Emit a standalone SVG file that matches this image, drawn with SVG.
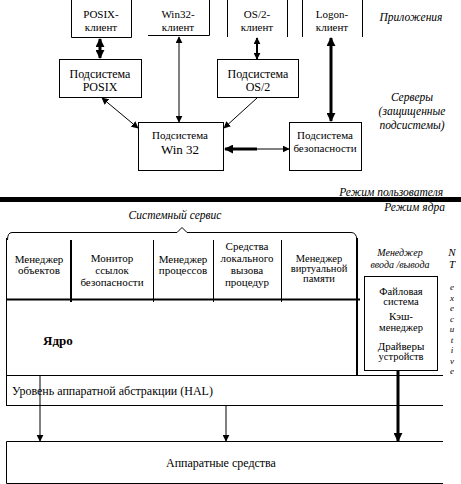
<svg xmlns="http://www.w3.org/2000/svg" width="461" height="484" viewBox="0 0 461 484">
<style>
text{font-family:"Liberation Serif","Times New Roman",serif;font-size:12px;fill:#000}
.c{text-anchor:middle}
.s{font-size:11px}
.xs{font-size:10.5px}
.i{font-style:italic;font-size:11.5px}
.b{font-weight:bold;font-size:13px}
.nt{font-style:italic;font-size:9px;text-anchor:middle}
.ln{stroke:#000;stroke-width:1;fill:none}
.l2{stroke:#000;stroke-width:2;fill:none}
.l3{stroke:#000;stroke-width:3;fill:none}
</style>
<defs>
<marker id="ah" viewBox="0 0 10 10" refX="9" refY="5" markerWidth="7" markerHeight="7" markerUnits="userSpaceOnUse" orient="auto-start-reverse"><path d="M0,0 L10,5 L0,10 z" fill="#000"/></marker>
<marker id="ahb" viewBox="0 0 10 10" refX="9" refY="5" markerWidth="9" markerHeight="9" markerUnits="userSpaceOnUse" orient="auto-start-reverse"><path d="M0,0 L10,5 L0,10 z" fill="#000"/></marker>
</defs>
<rect width="461" height="484" fill="#fff"/>

<!-- user mode clients -->
<g id="posix-client">
<path class="ln" d="M71.5,0 V37.5 H131.5 V0"/>
<text class="c s" x="101" y="18">POSIX-</text>
<text class="c s" x="101" y="31">клиент</text>
</g>
<g id="win32-client">
<path class="ln" d="M148,35.5 H209.5 V0"/>
<text class="c s" x="178" y="18">Win32-</text>
<text class="c s" x="178" y="31">клиент</text>
</g>
<g id="os2-client">
<path class="ln" d="M227.5,0 V37 M287.5,0 V37"/>
<text class="c s" x="257" y="18">OS/2-</text>
<text class="c s" x="257" y="31">клиент</text>
</g>
<g id="logon-client">
<path class="ln" d="M302.5,0 V37 M362.5,0 V37"/>
<text class="c s" x="332" y="18">Logon-</text>
<text class="c s" x="332" y="31">клиент</text>
</g>
<text id="label-apps" class="i" x="411" y="21" text-anchor="middle">Приложения</text>

<!-- servers -->
<g id="posix-subsystem">
<rect class="ln" x="59.5" y="59.5" width="82" height="38"/>
<text class="c" x="100" y="78">Подсистема</text>
<text class="c" x="100" y="91">POSIX</text>
</g>
<g id="os2-subsystem">
<rect class="ln" x="217.5" y="59.5" width="81" height="38"/>
<text class="c" x="258" y="78">Подсистема</text>
<text class="c" x="258" y="91">OS/2</text>
</g>
<g id="win32-subsystem">
<rect class="ln" x="138.5" y="122.5" width="85" height="48"/>
<text class="c s" x="180" y="139">Подсистема</text>
<text class="c" x="180" y="154" style="font-size:13px">Win 32</text>
</g>
<g id="security-subsystem">
<rect class="ln" x="289.5" y="122.5" width="72" height="48"/>
<text class="c s" x="325" y="139">Подсистема</text>
<text class="c s" x="325" y="152">безопасности</text>
</g>
<g id="label-servers">
<text class="i c" x="412" y="101">Серверы</text>
<text class="i c" x="412" y="115">(защищенные</text>
<text class="i c" x="412" y="129">подсистемы)</text>
</g>
<text id="label-user" class="i" x="443" y="196" text-anchor="end">Режим пользователя</text>
<rect id="mode-divider" x="0" y="197" width="461" height="5" fill="#000"/>
<text id="label-kernel" class="i" x="445" y="211" text-anchor="end">Режим ядра</text>

<!-- kernel -->
<text id="label-services" class="i c" x="175" y="219">Системный сервис</text>
<path id="brace" class="ln" d="M7.5,240 Q7.5,232.5 12,232.5 H177 L182,227.5 L187,232.5 H351 Q356.5,232.5 357,240"/>
<g id="kernel-frame">
<path class="ln" d="M6.5,238 V405"/>
<path class="l2" d="M357,238 V375"/>
<path class="l2" d="M6,299.5 H360"/>
<path class="ln" d="M6,375.5 H443"/>
<path class="ln" d="M6,405.5 H443"/>
</g>
<g id="object-manager">
<text class="c s" x="39" y="263">Менеджер</text>
<text class="c s" x="39" y="274">объектов</text>
</g>
<path class="l2" d="M71,240 V302"/>
<g id="security-monitor">
<text class="c s" x="112" y="262">Монитор</text>
<text class="c s" x="112" y="274">ссылок</text>
<text class="c s" x="112" y="286">безопасности</text>
</g>
<path class="ln" d="M153.5,240 V302"/>
<g id="process-manager">
<text class="c s" x="183" y="263">Менеджер</text>
<text class="c s" x="183" y="274">процессов</text>
</g>
<path class="ln" d="M213.5,240 V302"/>
<g id="lpc">
<text class="c s" x="247" y="250">Средства</text>
<text class="c s" x="247" y="262">локального</text>
<text class="c s" x="247" y="274">вызова</text>
<text class="c s" x="247" y="286">процедур</text>
</g>
<path class="ln" d="M281.5,240 V302"/>
<g id="vm-manager">
<text class="c xs" x="319" y="262">Менеджер<tspan x="319" dy="10">виртуальной</tspan><tspan x="319" dy="10">памяти</tspan></text>
</g>
<g id="kernel-core">
<text class="b" x="43" y="345">Ядро</text>
</g>
<g id="io-manager">
<text class="i c" x="400" y="256" style="font-size:10px">Менеджер</text>
<text class="i c" x="400" y="267.5" style="font-size:10px">ввода /вывода</text>
<rect class="ln" x="364.5" y="276.5" width="73" height="94"/>
<text class="c xs" x="401" y="295">Файловая<tspan x="401" dy="10">система</tspan></text>
<text class="c xs" x="401" y="320"><tspan style="font-size:11px">Кэш-</tspan><tspan x="401" dy="11">менеджер</tspan></text>
<text class="c xs" x="401" y="350"><tspan style="font-size:11px">Драйверы</tspan><tspan x="401" dy="10">устройств</tspan></text>
</g>
<g id="label-nt-executive">
<text class="nt" x="452" y="256" style="font-size:11px">N</text>
<text class="nt" x="452" y="268" style="font-size:11px">T</text>
<text class="nt" x="452" y="290">e</text>
<text class="nt" x="452" y="300.5">x</text>
<text class="nt" x="452" y="311">e</text>
<text class="nt" x="452" y="321.5">c</text>
<text class="nt" x="452" y="332">u</text>
<text class="nt" x="452" y="342.5">t</text>
<text class="nt" x="452" y="353">i</text>
<text class="nt" x="452" y="363.5">v</text>
<text class="nt" x="452" y="374">e</text>
</g>
<g id="hal">
<text x="12" y="395">Уровень аппаратной абстракции (HAL)</text>
</g>
<g id="hardware">
<path class="ln" d="M443,441.5 H6.5 V483.5 H443"/>
<text class="c" x="221" y="467">Аппаратные средства</text>
</g>

<g id="connectors">
<line class="l3" x1="100" y1="39" x2="100" y2="58" marker-start="url(#ahb)" marker-end="url(#ahb)"/>
<line class="ln" x1="179" y1="37" x2="179" y2="122" marker-start="url(#ah)" marker-end="url(#ah)"/>
<line class="l2" x1="257" y1="38" x2="257" y2="59" marker-start="url(#ah)" marker-end="url(#ah)"/>
<line class="l3" x1="331" y1="38" x2="331" y2="121" marker-start="url(#ahb)" marker-end="url(#ahb)"/>
<line class="ln" x1="102" y1="98" x2="138" y2="128" marker-start="url(#ah)" marker-end="url(#ah)"/>
<line class="ln" x1="257" y1="98" x2="224" y2="128" marker-end="url(#ah)"/>
<line class="l3" x1="257" y1="149" x2="225" y2="149" marker-end="url(#ahb)"/>
<line class="ln" x1="256" y1="149" x2="289" y2="149" marker-end="url(#ah)"/>
<line class="ln" x1="40" y1="376" x2="40" y2="441" marker-end="url(#ah)"/>
<line class="ln" x1="226" y1="406" x2="226" y2="441" marker-end="url(#ah)"/>
<line class="l3" x1="398" y1="371" x2="398" y2="441" marker-end="url(#ahb)"/>
</g>
</svg>
